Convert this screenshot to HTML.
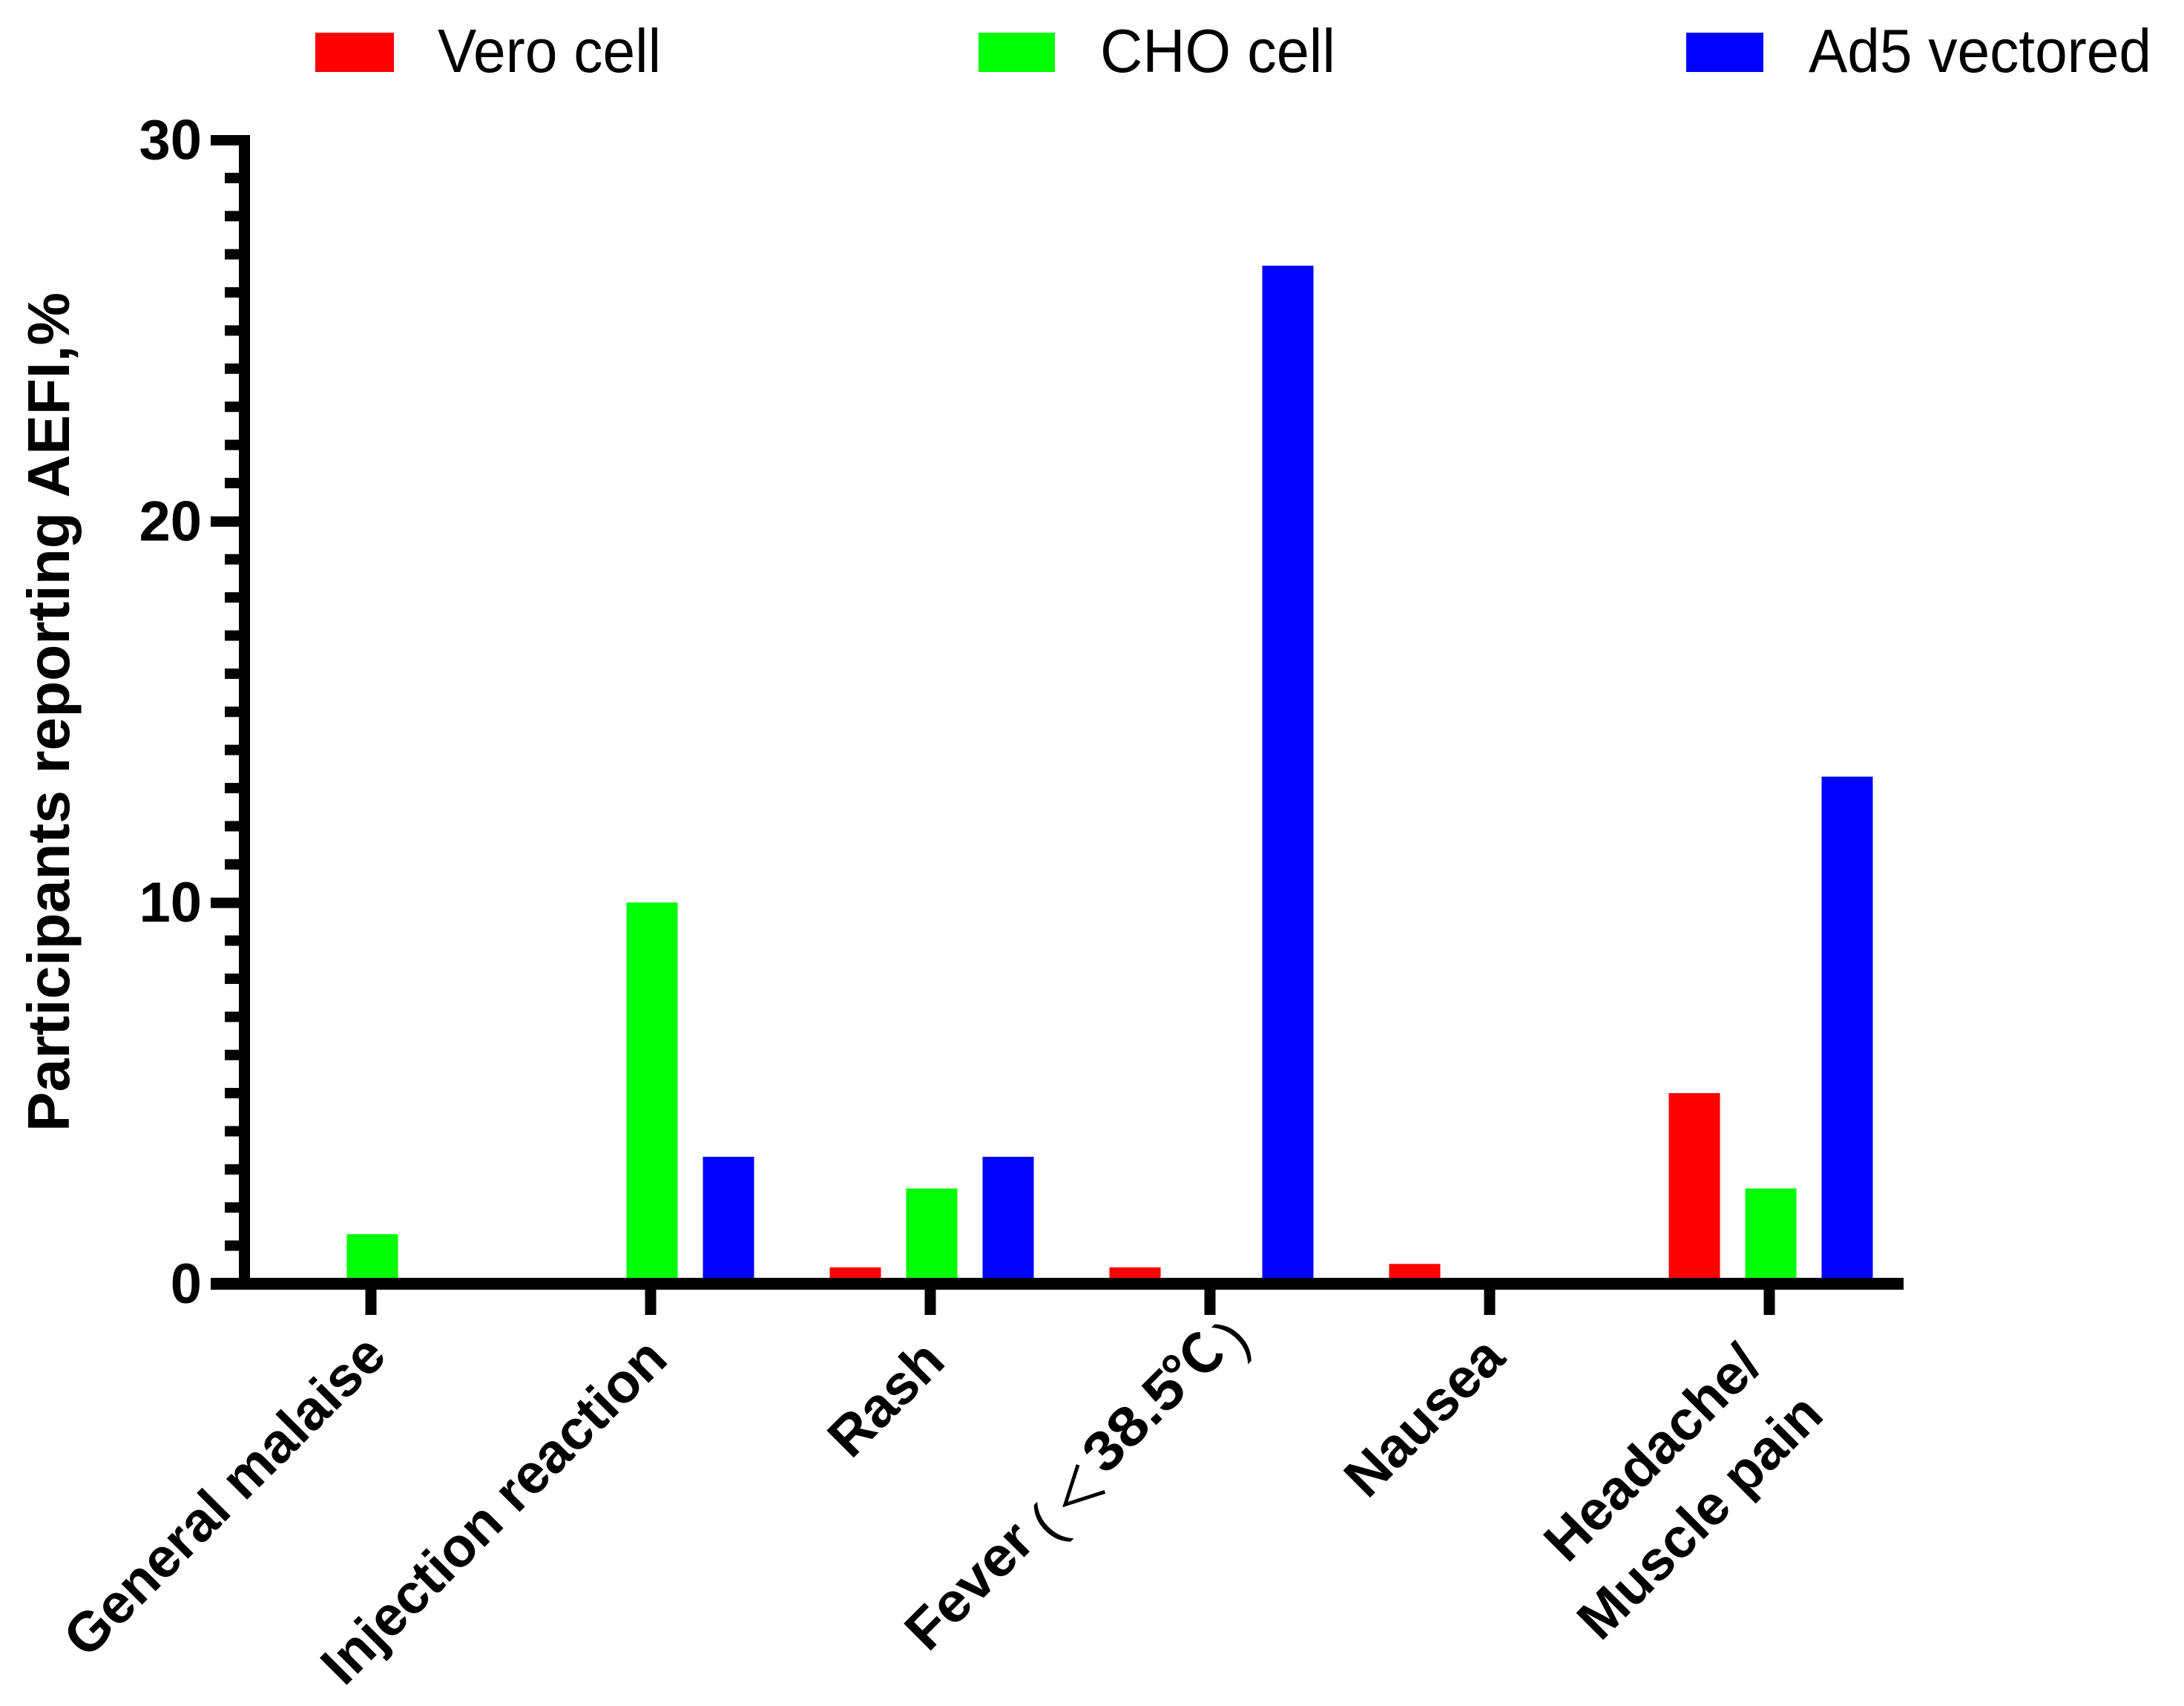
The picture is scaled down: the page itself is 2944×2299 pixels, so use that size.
<!DOCTYPE html>
<html lang="en">
<head>
<meta charset="utf-8">
<title>Participants reporting AEFI</title>
<style>
html,body{margin:0;padding:0;background:#fff;}
svg{display:block;}
text{font-family:"Liberation Sans","Noto Sans CJK SC",sans-serif;fill:#000;}
.legend-text{font-size:83px;}
.tick-y{font-size:76px;font-weight:bold;}
.title-y{font-size:80px;font-weight:bold;}
.tick-x{font-size:75px;font-weight:bold;}
.thin{font-weight:normal;font-family:"Noto Sans CJK SC",sans-serif;}
.paren{font-weight:normal;font-size:75px;}
.cjk-bold{font-weight:bold;font-family:"Noto Sans CJK SC",sans-serif;}
</style>
</head>
<body>
<svg id="chart" width="2944" height="2299" viewBox="0 0 2944 2299" xmlns="http://www.w3.org/2000/svg">
  <rect x="0" y="0" width="2944" height="2299" fill="#ffffff"/>
  <g id="bars"></g>
  <g id="axes"></g>

  <g>
    <rect x="425" y="44" width="106" height="53" fill="#ff0000"/>
    <text class="legend-text" x="590" y="97" textLength="301" lengthAdjust="spacingAndGlyphs">Vero cell</text>
    <rect x="1319" y="44" width="103" height="53" fill="#00ff00"/>
    <text class="legend-text" x="1483" y="97" textLength="317" lengthAdjust="spacingAndGlyphs">CHO cell</text>
    <rect x="2273" y="44" width="104" height="53" fill="#0000ff"/>
    <text class="legend-text" x="2438" y="97" textLength="462" lengthAdjust="spacingAndGlyphs">Ad5 vectored</text>
  </g>

  <text class="title-y" transform="translate(93,1525) rotate(-90)" textLength="1131" lengthAdjust="spacingAndGlyphs">Participants reporting AEFI,%</text>

  <g>
    <text class="tick-x" text-anchor="end" transform="translate(524,1830) rotate(-45)">General malaise</text>
    <text class="tick-x" text-anchor="end" transform="translate(903,1835) rotate(-45)">Injection reaction</text>
    <text class="tick-x" text-anchor="end" transform="translate(1277,1838) rotate(-45)">Rash</text>
    <g transform="translate(1251,2228) rotate(-45)">
      <text class="tick-x" x="0" y="0" textLength="208" lengthAdjust="spacingAndGlyphs">Fever</text>
      <text class="paren" x="224" y="14">(</text>
      <text class="thin" style="font-size:72px" x="260" y="16">＜</text>
      <text class="tick-x" x="338" y="0" textLength="160" lengthAdjust="spacingAndGlyphs">38.5</text>
      <text class="cjk-bold" style="font-size:74px" x="494" y="2">℃</text>
      <text class="paren" x="580" y="14">)</text>
    </g>
    <text class="tick-x" text-anchor="end" transform="translate(2032,1833) rotate(-45)">Nausea</text>
    <text class="tick-x" text-anchor="end" transform="translate(2378,1843) rotate(-45)">Headache/</text>
    <text class="tick-x" text-anchor="end" transform="translate(2461,1910) rotate(-45)">Muscle pain</text>
  </g>
</svg>
<script>
const categories = ["General malaise", "Injection reaction", "Rash", "Fever", "Nausea", "Headache/Muscle pain"];
const veroCell = [0, 0, 0.43, 0.43, 0.52, 5.0];
const choCell = [1.3, 10.0, 2.5, 0, 0, 2.5];
const ad5Vectored = [0, 3.33, 3.33, 26.7, 0, 13.3];
const yTickLabels = ["0", "10", "20", "30"];
const yTickValues = [0, 10, 20, 30];
const yMax = 30;

const NS = "http://www.w3.org/2000/svg";
const barsGroup = document.getElementById("bars");
const axesGroup = document.getElementById("axes");

function yScale(v) {
  return 1730 - (1730 - 188.5) * v / yMax;
}
function xTick(i) {
  return 500 + 377 * i;
}
function rectEl(x, y, w, h, fill) {
  const r = document.createElementNS(NS, "rect");
  r.setAttribute("x", x);
  r.setAttribute("y", y);
  r.setAttribute("width", w);
  r.setAttribute("height", h);
  r.setAttribute("fill", fill);
  return r;
}
function slug(s) {
  return s.toLowerCase().replace(/[^a-z0-9]+/g, "-");
}

function drawSeries(values, offset, color, seriesName) {
  values.forEach(function (v, i) {
    const cx = xTick(i) + 2 + offset;
    const bar = rectEl(cx - 34.5, yScale(v), 69, yScale(0) - yScale(v), color);
    
    
    barsGroup.appendChild(bar);
  });
}
drawSeries(veroCell, -103, "#ff0000", "vero-cell");
drawSeries(choCell, 0, "#00ff00", "cho-cell");
drawSeries(ad5Vectored, 103, "#0000ff", "ad5-vectored");

const yAxisLine = rectEl(322, yScale(yMax) - 6.5, 15, yScale(0) + 8 - (yScale(yMax) - 6.5), "#000");


axesGroup.appendChild(yAxisLine);

const xAxisLine = rectEl(284, 1722, 2566 - 284, 16, "#000");


axesGroup.appendChild(xAxisLine);

for (let v = 1; v < yMax; v++) {
  if (v % 10 === 0) continue;
  const minor = rectEl(303, yScale(v) - 7, 20, 14, "#000");
  
  
  axesGroup.appendChild(minor);
}

yTickValues.forEach(function (v, i) {
  if (v !== 0) {
    const major = rectEl(284, yScale(v) - 6.5, 39, 14, "#000");
    
    
    axesGroup.appendChild(major);
  }
  const label = document.createElementNS(NS, "text");
  label.setAttribute("class", "tick-y");
  label.setAttribute("x", 272);
  label.setAttribute("y", yScale(v) + 26);
  label.setAttribute("text-anchor", "end");
  label.textContent = yTickLabels[i];
  
  
  axesGroup.appendChild(label);
});

categories.forEach(function (c, i) {
  const tick = rectEl(xTick(i) - 7.5, 1737, 15, 35, "#000");
  
  
  axesGroup.appendChild(tick);
});
</script>
</body>
</html>
